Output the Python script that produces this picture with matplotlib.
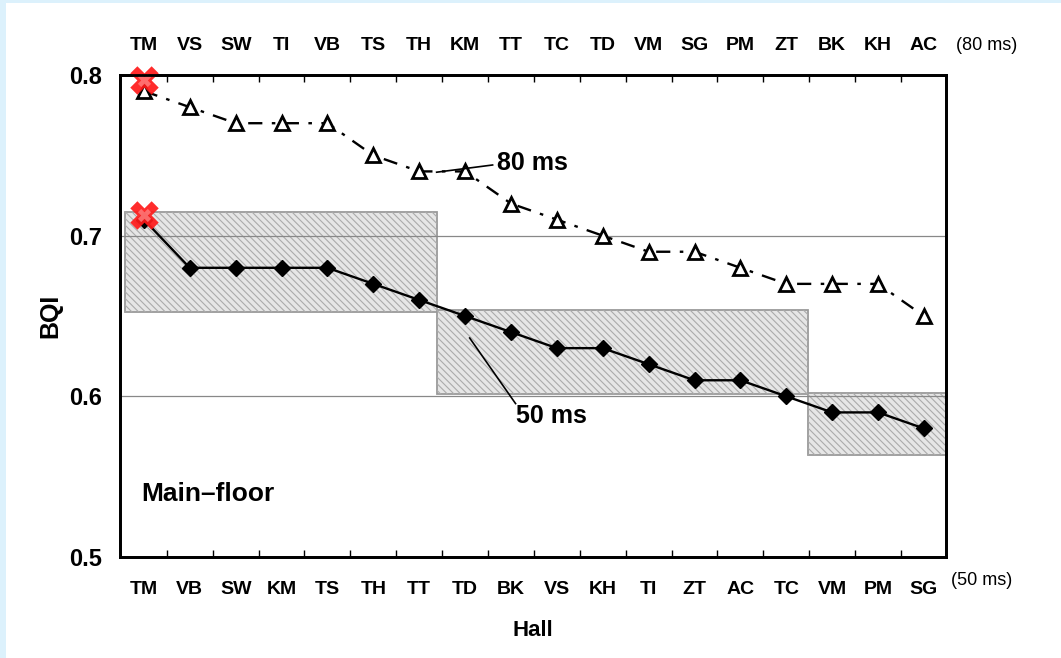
import numpy as np
import matplotlib.pyplot as plt
from matplotlib.patches import Rectangle

plt.rcParams['font.family'] = ['Liberation Sans', 'DejaVu Sans']
plt.rcParams['hatch.linewidth'] = 0.8

# hall order and BQI for the 80 ms integration time (top axis)
halls_80 = ['TM', 'VS', 'SW', 'TI', 'VB', 'TS', 'TH', 'KM', 'TT',
            'TC', 'TD', 'VM', 'SG', 'PM', 'ZT', 'BK', 'KH', 'AC']
bqi_80 = [0.79, 0.78, 0.77, 0.77, 0.77, 0.75, 0.74, 0.74, 0.72,
          0.71, 0.70, 0.69, 0.69, 0.68, 0.67, 0.67, 0.67, 0.65]

# hall order and BQI for the 50 ms integration time (bottom axis)
halls_50 = ['TM', 'VB', 'SW', 'KM', 'TS', 'TH', 'TT', 'TD', 'BK',
            'VS', 'KH', 'TI', 'ZT', 'AC', 'TC', 'VM', 'PM', 'SG']
bqi_50 = [0.71, 0.68, 0.68, 0.68, 0.68, 0.67, 0.66, 0.65, 0.64,
          0.63, 0.63, 0.62, 0.61, 0.61, 0.60, 0.59, 0.59, 0.58]

# shaded ranking groups: (x start, x end, BQI low, BQI high)
group_x0 = [-0.41, 6.38, 14.47]
group_x1 = [6.38, 14.47, 17.48]
group_lo = [0.6525, 0.6015, 0.5635]
group_hi = [0.715, 0.654, 0.602]

# highlighted hall (red crosses)
mark_x = [0, 0]
mark_y = [0.797, 0.713]

x = np.arange(len(halls_50))

fig = plt.figure(figsize=(10.61, 6.58), dpi=100, facecolor='#dcf1fc')
fig.patches.append(Rectangle((6 / 1061, 0), 1, 1 - 3 / 658, transform=fig.transFigure,
                             facecolor='white', edgecolor='none', zorder=-10))
ax = fig.add_axes([0.1131, 0.1535, 0.7785, 0.7325])
ax.set_xlim(-0.52, 17.48)
ax.set_ylim(0.5, 0.8)

for x0, x1, lo, hi in zip(group_x0, group_x1, group_lo, group_hi):
    ax.add_patch(Rectangle((x0, lo), x1 - x0, hi - lo, facecolor='#e6e6e6',
                           edgecolor='#9a9a9a', linewidth=1.3, zorder=1))
    ax.add_patch(Rectangle((x0, lo), x1 - x0, hi - lo, facecolor='none',
                           edgecolor='#ababab', linewidth=0, hatch='\\\\\\\\\\', zorder=1.1))

for yv in [0.6, 0.7]:
    ax.axhline(yv, color='#888888', linewidth=0.9, zorder=1.5)

ax.plot(x, bqi_80, color='black', linestyle=(0, (6, 4, 1.5, 4)), linewidth=1.7,
        marker='^', markersize=10.5, markerfacecolor='white', markeredgecolor='black',
        markeredgewidth=2, zorder=3)
ax.plot(x, bqi_50, color='black', linestyle='-', linewidth=1.7,
        marker='D', markersize=8, markerfacecolor='black', markeredgecolor='black', zorder=3)
ax.scatter(mark_x, mark_y, marker='X', s=420, color='#ff1a1a', alpha=0.92,
           linewidths=0, zorder=5, clip_on=False)
ax.scatter(mark_x, mark_y, marker='X', s=90, color='#ff8080', alpha=0.8,
           linewidths=0, zorder=6, clip_on=False)

tick_font = dict(fontsize=14, fontweight='bold')

# bottom axis: 50 ms order
ax.set_xticks(x)
ax.set_xticklabels(halls_50, **tick_font)
ax.set_xticks(x[:-1] + 0.5, minor=True)
ax.tick_params(axis='x', which='major', length=0, pad=17)
ax.tick_params(axis='x', which='minor', direction='in', length=5, width=1, top=False)
ax.set_yticks([0.5, 0.6, 0.7, 0.8])
ax.set_yticklabels(['0.5', '0.6', '0.7', '0.8'], fontsize=17, fontweight='bold')
ax.tick_params(axis='y', length=0, pad=13)

# top axis: 80 ms order
ax2 = ax.twiny()
ax2.set_xlim(ax.get_xlim())
ax2.set_xticks(x)
ax2.set_xticklabels(halls_80, **tick_font)
ax2.set_xticks(x[:-1] + 0.5, minor=True)
ax2.tick_params(axis='x', which='major', length=0, pad=15)
ax2.tick_params(axis='x', which='minor', direction='in', length=5, width=1)

for a in (ax, ax2):
    for s in a.spines.values():
        s.set_linewidth(2)

ax.set_xlabel('Hall', fontsize=16, fontweight='bold', labelpad=16)
ax.set_ylabel('BQI', fontsize=18, fontweight='bold', labelpad=5)

ax.text(17.7, 0.8 + 0.0183, '(80 ms)', fontsize=13, ha='left', va='center')
ax.text(17.6, 0.5 - 0.0145, '(50 ms)', fontsize=13, ha='left', va='center')

ax.text(-0.05, 0.5395, 'Main\u2013floor', fontsize=19, fontweight='bold', ha='left', va='center')

ax.plot([6.38, 7.6], [0.7395, 0.744], color='black', linewidth=1.2, zorder=4)
ax.text(7.7, 0.7455, '80 ms', fontsize=18, fontweight='bold', ha='left', va='center')
ax.plot([7.1, 8.1], [0.6363, 0.5955], color='black', linewidth=1.2, zorder=4)
ax.text(8.1, 0.5875, '50 ms', fontsize=18, fontweight='bold', ha='left', va='center')

fig.savefig('out.png', dpi=100, facecolor=fig.get_facecolor())
